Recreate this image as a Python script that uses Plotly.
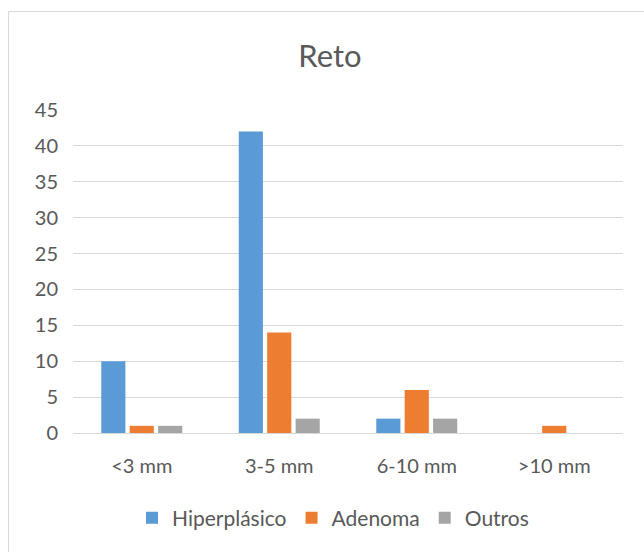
import plotly.graph_objects as go

categories = ["<3 mm", "3-5 mm", "6-10 mm", ">10 mm"]
hiperplasico = [10, 42, 2, 0]
adenoma = [1, 14, 6, 1]
outros = [1, 2, 2, 0]
series_names = ["Hiperplásico", "Adenoma", "Outros"]
colors = ["#5B9BD5", "#ED7D31", "#A5A5A5"]
y_ticks = [0, 5, 10, 15, 20, 25, 30, 35, 40, 45]

FONT = "Lato"
TXT = "#595959"

fig = go.Figure()
for name, vals, col in zip(series_names, [hiperplasico, adenoma, outros], colors):
    fig.add_trace(go.Bar(x=categories, y=vals, name=name, marker_color=col,
                         marker_line_width=0))

W, H = 644, 552
L, R, T, B = 73, 21, 110, 119
pw, ph = W - L - R, H - T - B

def px_x(x):
    return (x - L) / pw

def px_y(y):
    return (H - B - y) / ph

fig.update_layout(
    width=W, height=H,
    margin=dict(l=L, r=R, t=T, b=B, autoexpand=False),
    paper_bgcolor="white", plot_bgcolor="white",
    barmode="group", bargap=0.38, bargroupgap=0.15,
    font=dict(family=FONT, color=TXT, size=20),
    title=dict(text="Reto", x=px_x(330), xanchor="center", xref="paper",
               y=1 - 56 / H, yanchor="middle", yref="container",
               font=dict(family=FONT, size=31, color=TXT)),
    showlegend=True,
    legend=dict(orientation="h", x=px_x(333), xanchor="center",
                y=px_y(518), yanchor="middle",
                font=dict(family=FONT, size=21, color=TXT),
                itemwidth=30, tracegroupgap=0, bgcolor="rgba(0,0,0,0)"),
    xaxis=dict(showgrid=False, showline=False, ticks="", zeroline=False,
               tickfont=dict(family=FONT, size=20, color=TXT),
               ticklabelstandoff=19),
    yaxis=dict(range=[0, 45], tickvals=y_ticks, showgrid=True,
               gridcolor="#D9D9D9", gridwidth=1, zeroline=True,
               zerolinecolor="#D9D9D9", zerolinewidth=1, showline=False,
               ticks="", tickfont=dict(family=FONT, size=20, color=TXT),
               ticklabelstandoff=14),
    shapes=[dict(type="rect", xref="paper", yref="paper",
                 x0=px_x(8.5), x1=px_x(660), y0=px_y(570), y1=px_y(11.5),
                 line=dict(color="#D9D9D9", width=1), fillcolor="rgba(0,0,0,0)",
                 layer="below")],
)

fig.write_html("out.html",
               config={"displayModeBar": False},
               post_script="document.body.style.margin='0';document.body.style.overflow='hidden';")
